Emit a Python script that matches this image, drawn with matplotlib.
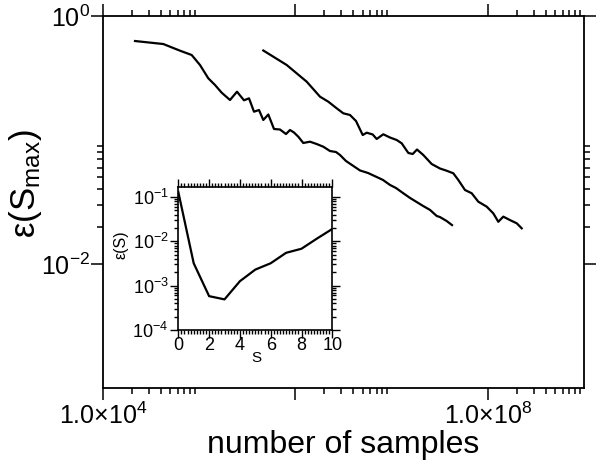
import matplotlib
matplotlib.use("Agg")
import matplotlib.pyplot as plt
from matplotlib.ticker import FixedLocator, FixedFormatter, NullFormatter

plt.rcParams['font.family'] = ['Liberation Sans', 'DejaVu Sans']
plt.rcParams['mathtext.fontset'] = 'custom'
plt.rcParams['mathtext.rm'] = 'Liberation Sans'
plt.rcParams['mathtext.it'] = 'Liberation Sans:italic'
plt.rcParams['mathtext.bf'] = 'Liberation Sans:bold'

# ---- data: main panel ----
curve1_n = [2.151e4, 4.236e4, 6.316e4, 8.356e4, 1.019e5, 1.243e5, 1.460e5, 1.713e5, 2.090e5,
            2.471e5, 2.922e5, 3.294e5, 3.713e5, 4.184e5, 4.638e5, 5.228e5, 5.991e5, 6.916e5,
            7.985e5, 8.789e5, 9.670e5, 1.072e6, 1.208e6, 1.418e6, 1.665e6, 1.950e6, 2.289e6,
            2.642e6, 2.909e6, 3.357e6, 3.876e6, 4.694e6, 5.683e6, 7.000e6, 8.139e6, 9.626e6,
            1.111e7, 1.323e7, 1.554e7, 1.824e7, 2.121e7, 2.507e7, 2.943e7, 3.185e7, 3.740e7,
            4.245e7]
curve1_eps = [0.6284, 0.5943, 0.5251, 0.4846, 0.4026, 0.3145, 0.2777, 0.2407, 0.2102,
              0.2452, 0.2090, 0.2169, 0.1691, 0.1745, 0.1450, 0.1606, 0.1227, 0.1215,
              0.1117, 0.1204, 0.1149, 0.1063, 0.0946, 0.0969, 0.0928, 0.0883, 0.0815,
              0.0800, 0.0757, 0.0677, 0.0628, 0.0568, 0.0542, 0.0503, 0.0476, 0.0434,
              0.0410, 0.0372, 0.0341, 0.0316, 0.0294, 0.0273, 0.0244, 0.0239, 0.0222,
              0.0206]

curve2_n = [4.638e5, 8.120e5, 1.311e6, 1.802e6, 2.198e6, 2.687e6, 3.147e6, 3.695e6, 4.265e6,
            5.008e6, 5.509e6, 6.361e6, 7.000e6, 8.198e6, 9.626e6, 1.130e7, 1.274e7, 1.492e7,
            1.657e7, 1.837e7, 2.135e7, 2.611e7, 3.185e7, 3.740e7, 4.379e7, 4.936e7, 5.794e7,
            6.802e7, 7.967e7, 9.741e7, 1.141e8, 1.286e8, 1.449e8, 1.701e8, 1.998e8, 2.252e8]
curve2_eps = [0.5270, 0.4026, 0.2952, 0.2235, 0.2037, 0.1801, 0.1642, 0.1591, 0.1423,
              0.1097, 0.1145, 0.1108, 0.1019, 0.1112, 0.1047, 0.1000, 0.0940, 0.0786,
              0.0771, 0.0838, 0.0757, 0.0640, 0.0589, 0.0565, 0.0539, 0.0476, 0.0395,
              0.0372, 0.0318, 0.0290, 0.0256, 0.0219, 0.0241, 0.0226, 0.0213, 0.0194]

main_xticks = [1e4, 1e6, 1e8]
main_xticklabels = ['1.0×10$^{4}$', '', '1.0×10$^{8}$']
main_xminor = [m * d for d in (1e4, 1e6, 1e8) for m in range(2, 10)]
main_yticks = [1e-2, 1e0]
main_yticklabels = ['10$^{-2}$', '10$^{0}$']
main_yminor = [m * 1e-2 for m in range(2, 10)]

# ---- data: inset ----
inset_S = [0, 1, 2, 3, 4, 5, 6, 7, 8, 9, 10]
inset_eps = [0.13, 3.2e-3, 5.8e-4, 4.9e-4, 1.26e-3, 2.3e-3, 3.2e-3, 5.5e-3, 6.8e-3, 1.15e-2, 1.9e-2]
inset_xticks = [0, 2, 4, 6, 8, 10]
inset_yticks = [1e-4, 1e-3, 1e-2, 1e-1]
inset_yticklabels = ['10$^{-4}$', '10$^{-3}$', '10$^{-2}$', '10$^{-1}$']

fig = plt.figure(figsize=(6.0, 4.7), dpi=100)
ax = fig.add_axes([103 / 600, 1 - 388 / 470, 481 / 600, 372 / 470])
ax.plot(curve1_n, curve1_eps, color='black', lw=1.6)
ax.plot(curve2_n, curve2_eps, color='black', lw=1.6)
ax.set_xscale('log')
ax.set_yscale('log')
ax.set_xlim(1e4, 1e9)
ax.set_ylim(1e-3, 1e0)
ax.xaxis.set_major_locator(FixedLocator(main_xticks))
ax.xaxis.set_major_formatter(FixedFormatter(main_xticklabels))
ax.xaxis.set_minor_locator(FixedLocator(main_xminor))
ax.xaxis.set_minor_formatter(NullFormatter())
ax.yaxis.set_major_locator(FixedLocator(main_yticks))
ax.yaxis.set_major_formatter(FixedFormatter(main_yticklabels))
ax.yaxis.set_minor_locator(FixedLocator(main_yminor))
ax.yaxis.set_minor_formatter(NullFormatter())
ax.tick_params(which='both', direction='out', top=True, right=True, width=1.1, labelsize=18)
ax.tick_params(which='major', length=8.5)
ax.tick_params(axis='x', which='major', pad=2)
ax.tick_params(axis='y', which='major', pad=1)
ax.tick_params(which='minor', length=4.5)
for s in ax.spines.values():
    s.set_linewidth(1.3)
ax.set_xlabel('number of samples', fontsize=23)
ax.xaxis.set_label_coords(0.5, -0.112)
ax.set_ylabel('ε(S$_{\\rm max}$)', fontsize=25)
ax.yaxis.set_label_coords(-0.122, 0.55)

ins = fig.add_axes([178.3 / 600, 1 - 330 / 470, 154 / 600, 142.7 / 470])
ins.plot(inset_S, inset_eps, color='black', lw=1.6)
ins.set_yscale('log')
ins.set_xlim(0, 10)
ins.set_ylim(1e-4, 0.165)
ins.set_xticks(inset_xticks)
ins.set_xticks([i * 0.2 for i in range(51)], minor=True)
ins.yaxis.set_major_locator(FixedLocator(inset_yticks))
ins.yaxis.set_major_formatter(FixedFormatter(inset_yticklabels))
ins.yaxis.set_minor_locator(FixedLocator([m * d for d in (1e-4, 1e-3, 1e-2, 1e-1) for m in range(2, 10)]))
ins.yaxis.set_minor_formatter(NullFormatter())
ins.tick_params(which='both', direction='out', top=True, right=True, width=1.0, labelsize=13)
ins.tick_params(which='major', length=6, pad=1)
ins.tick_params(axis='x', which='major', pad=-1)
ins.tick_params(which='minor', length=3.2)
for s in ins.spines.values():
    s.set_linewidth(1.2)
ins.set_xlabel('S', fontsize=11)
ins.xaxis.set_label_coords(0.505, -0.15)
ins.set_ylabel('ε(S)', fontsize=11.5)
ins.yaxis.set_label_coords(-0.325, 0.6)

fig.savefig('out.png', dpi=100)
